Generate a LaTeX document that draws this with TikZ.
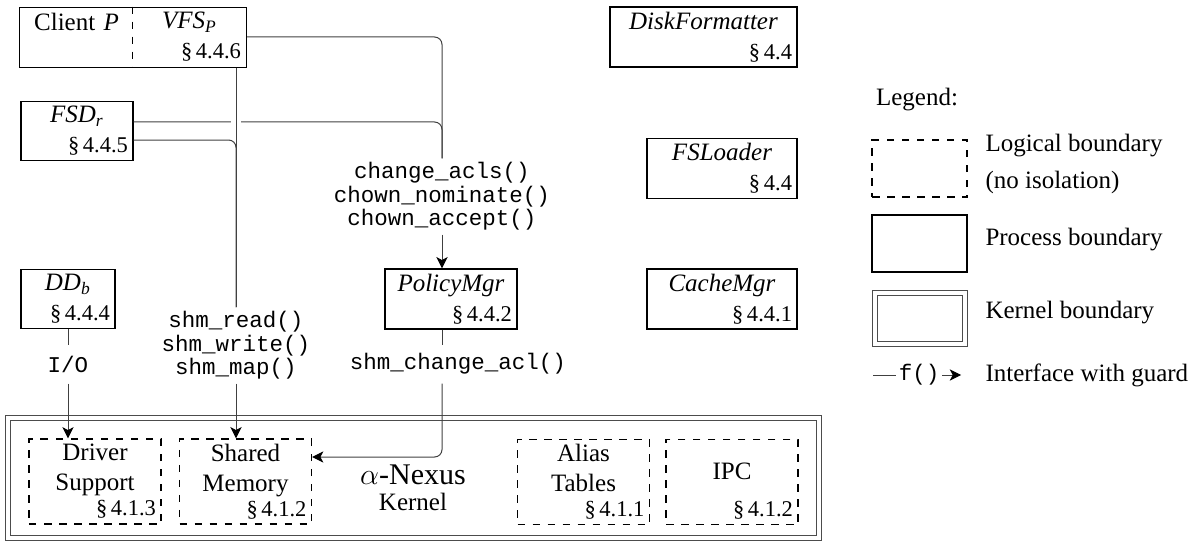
\documentclass[tikz,border=0pt]{standalone}
\usepackage{fontspec}
\setmainfont{Liberation Serif}
\setmonofont{Liberation Mono}
\usetikzlibrary{arrows.meta, positioning}

\begin{document}
\begin{tikzpicture}[x=0.4pt, y=-0.4pt, >={Stealth[length=4.5pt, width=4.5pt, inset=1.2pt, color=black]}]
        % Styles
        \tikzstyle{proc} = [rectangle, draw, line width=0.5pt, align=center, inner sep=2pt, minimum height=22.4pt]
        \tikzstyle{part} = [rectangle, draw, dashed, line width=0.5pt, align=center, inner sep=2pt, text width=48.8pt, minimum height=34pt]
        \tikzstyle{kern} = [rectangle, draw=black!70, double, double distance=1.6pt, inner sep=0pt]
        \tikzstyle{call} = [font={\ttfamily\fontsize{9}{9.4}\selectfont}, align=center, inner ysep=1.5pt, minimum height=15.2pt]
        \tikzstyle{conn} = [draw, black!75, rounded corners=3pt]
        \tikzstyle{line} = [draw, black!75, rounded corners=3pt, ->]
        \tikzstyle{legtext} = [anchor=west, align=left, inner sep=2pt]

        \useasboundingbox (0,0) rectangle (1197,546);

        % Nodes
        \node [proc, draw=none, text width=41.2pt] (client) at (76.5,37) {Client \textit{P}\\\small\mbox{}};
        \node [proc, draw=none, text width=41.2pt] (vfs) at (189.5,37) {\textit{VFS}\textsubscript{\textit{P}}\\\small\hfill\S\,4.4.6};
        \node [proc, text width=40.8pt] (fsd) at (77,131) {\textit{FSD}\textsubscript{\textit{r}}\\\small\hfill\S\,4.4.5};
        \node [proc, text width=33.6pt] (dd) at (68,299) {\textit{DD}\textsubscript{\textit{b}}\\\small\hfill\S\,4.4.4};
        \node [proc, text width=48.8pt] (policy) at (451,299) {\textit{PolicyMgr}\\\small\hfill\S\,4.4.2};
        \node [proc, text width=70.8pt] (disk) at (703.5,37) {\textit{DiskFormatter}\\\small\hfill\S\,4.4};
        \node [proc, text width=56pt] (fsl) at (722,168.5) {\textit{FSLoader}\\\small\hfill\S\,4.4};
        \node [proc, text width=56pt] (cache) at (722,299) {\textit{CacheMgr}\\\small\hfill\S\,4.4.1};

        % Kernel
        \node [kern, minimum width=324pt, minimum height=48pt] (kernel) at (413.5,477.5) {};
        \node [align=center] (nexus) at (413,488) {{\large$\alpha$-Nexus}\\[-1.6pt]Kernel};
        \node [part] (driver) at (95,481.5) {Driver\\Support\\[-2pt]\small\hfill\S\,4.1.3};
        \node [part] (shmem) at (245.5,481.5) {Shared\\Memory\\[-2pt]\small\hfill\S\,4.1.2};
        \node [part] (alias) at (583.5,482) {Alias\\Tables\\[-2pt]\small\hfill\S\,4.1.1};
        \node [part] (ipc) at (732,482) {\rule{0pt}{14pt}IPC\\[3pt]\small\hfill\S\,4.1.2};

        % Calls
        \node [call] (chacl) at (442,196.5) {change\_acls()\\chown\_nominate()\\chown\_accept()};
        \node [call] (shmops) at (236,345.5) {shm\_read()\\shm\_write()\\shm\_map()};
        \node [call] (io) at (68,364) {I/O};
        \node [call] (shmacl) at (458,364) {shm\_change\_acl()};

        % Legend
        \node (legend) at (917,100) {Legend:};
        \node [part, text width=34pt, minimum height=22.8pt] (leglog) at (919.5,168.5) {};
        \node [proc, minimum width=38pt, minimum height=22.8pt] (legproc) at (919.5,243.5) {};
        \node [kern, minimum width=36pt, minimum height=20.4pt] (legkern) at (919.5,318) {};
        \node [legtext] (logtext) at (980,163.5) {Logical boundary\\[2.8pt](no isolation)};
        \node [legtext] (proctext) at (980,240) {Process boundary};
        \node [legtext] (kerntext) at (980,313) {Kernel boundary};
        \coordinate (lega) at (873,375);
        \node [call, inner xsep=1pt, minimum height=0pt] (fleg) at (919,375) {f()};
        \coordinate (legb) at (961,375);
        \node [legtext] (guardtext) at (980,375) {Interface with guard};

        % Paths
        \path [conn] ([yshift=3.6pt]fsd.east) -| (chacl.north);
        \path [conn] (vfs.east) -| (chacl.north);
        \path [conn, preaction={draw=white, line width=4pt}] (vfs.south -| shmops) -- (shmops.north);
        \path [conn] ([yshift=-3.6pt]fsd.east) -| (shmops.north);
        \path [conn] (dd) -- (io);
        \path [line] (io) -- (io |- driver.north);
        \path [line] (shmops) -- (shmops |- shmem.north);
        \path [line] (chacl) -- (chacl |- policy.north);
        \path [conn] ([xshift=-3.6pt]policy.south) -- ([xshift=-3.6pt]policy.south |- shmacl.north);
        \path [line] ([xshift=-3.6pt]policy.south |- shmacl.south) |- ([yshift=9.8pt]shmem.east);
        \path [conn] (lega) -- (fleg);
        \path [line] (fleg) -- (legb);

        % Client P / VFS_P outline
        \draw [line width=0.5pt] (client.north west) rectangle (vfs.south east);
        \draw [dashed, line width=0.5pt] (vfs.north west) -- (vfs.south west);
\end{tikzpicture}
\end{document}
